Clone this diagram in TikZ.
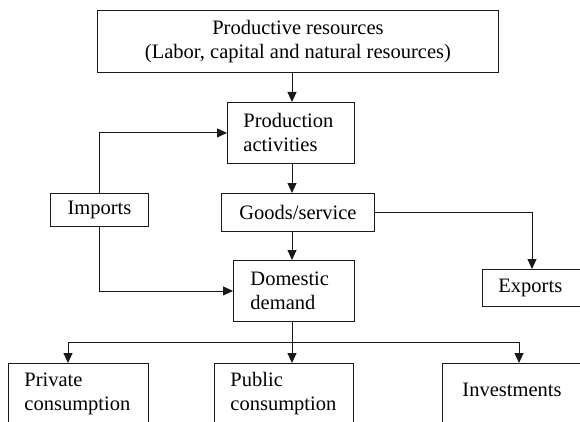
\documentclass[tikz,border=0pt]{standalone}
\usepackage{fontspec}
\setmainfont{Liberation Serif}
\usetikzlibrary{arrows.meta}
\newcommand{\diagfont}{\fontsize{20.5}{24}\selectfont}
\begin{document}
\begin{tikzpicture}[x=1pt,y=-1pt,
  box/.style={draw=black!90, line width=0.9pt, inner ysep=0pt, anchor=north west, font=\diagfont},
  cbox/.style={box, inner xsep=0pt, align=center},
  lbox/.style={box, inner xsep=#1, align=left},
  conn/.style={line width=0.9pt, draw=black!90},
  arr/.style={conn, -{Triangle[length=10pt,width=9pt]}}]
\useasboundingbox (0,0) rectangle (580,422);
\clip (0,0) rectangle (580,422);
% nodes
\node[cbox, minimum width=401pt, minimum height=62pt] (top) at (97,10)
  {Productive resources\\(Labor, capital and natural resources)};
\node[lbox=16pt, text width=95pt, minimum height=61pt] (prod) at (227,102)
  {Production\\activities};
\node[cbox, minimum width=98pt, minimum height=33pt] (imp) at (50,193) {Imports};
\node[cbox, minimum width=153pt, minimum height=38pt] (goods) at (221,193) {Goods/service};
\node[lbox=17pt, text width=87pt, minimum height=61pt] (dom) at (233,260)
  {Domestic\\demand};
\node[lbox=16pt, text width=88pt, minimum height=37pt] (exp) at (482,269) {Exports};
\node[lbox=16pt, text width=108pt, minimum height=60.5pt] (priv) at (8,363)
  {Private\\consumption};
\node[lbox=16pt, text width=107pt, minimum height=60.5pt] (pub) at (214,363)
  {Public\\consumption};
\node[lbox=20pt, text width=110pt, minimum height=60.5pt, text height=14pt, text depth=8pt] (inv) at (442,363) {Investments};
% helper coordinates
\coordinate (ax) at (292,0);
\coordinate (exx) at (532,0);
\coordinate (bar) at (0,342);
\coordinate (px) at (68,0);
\coordinate (ix) at (519,0);
% connectors
\draw[arr] (top.south -| ax) -- (prod.north -| ax);
\draw[arr] (prod.south -| ax) -- (goods.north -| ax);
\draw[arr] (goods.south -| ax) -- (dom.north -| ax);
\draw[arr] (imp.north) |- (prod.west);
\draw[arr] (imp.south) |- (dom.west);
\draw[arr] (goods.east) -| (exx |- exp.north);
\draw[arr] (dom.south -| ax) -- (pub.north -| ax);
\draw[arr] (ax |- bar) -| (px |- priv.north);
\draw[arr] (ax |- bar) -| (ix |- inv.north);
\end{tikzpicture}
\end{document}
